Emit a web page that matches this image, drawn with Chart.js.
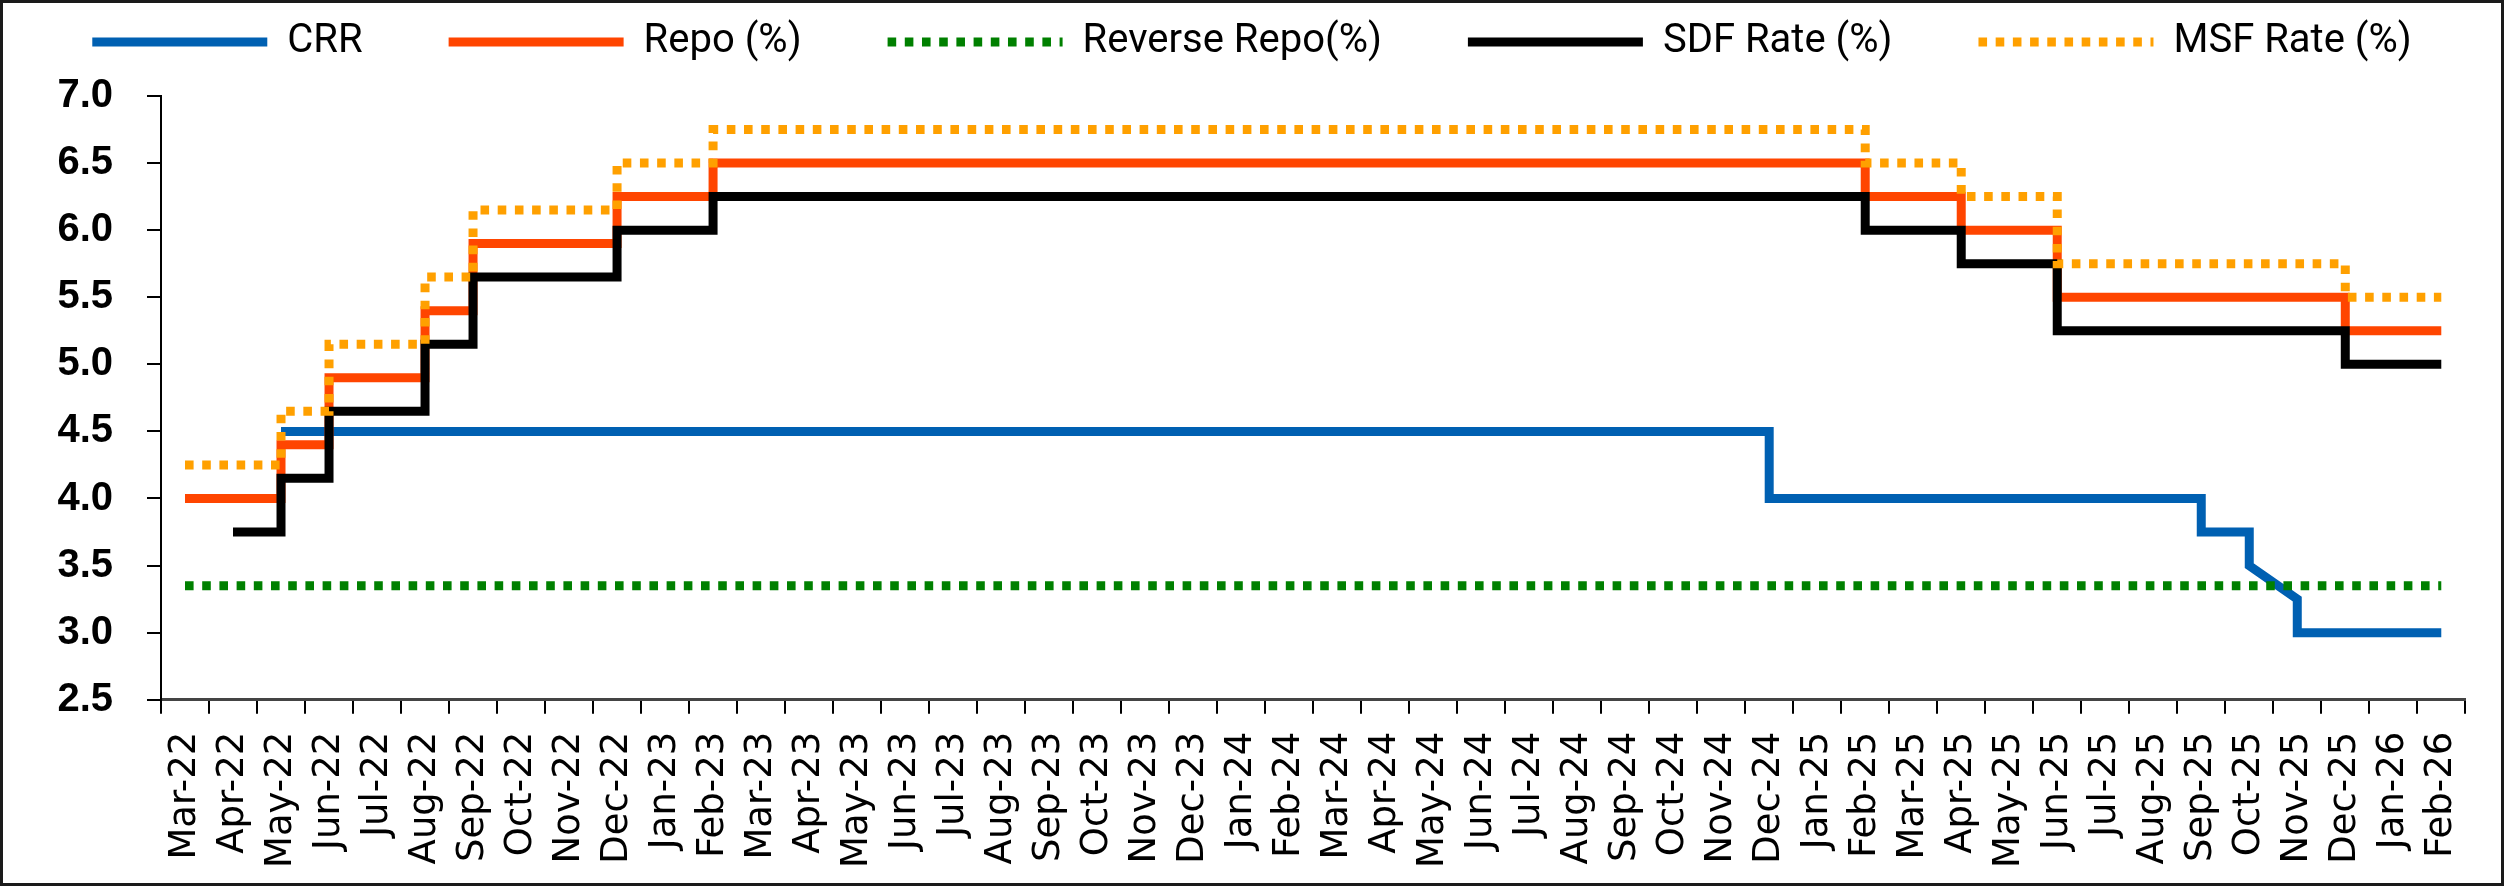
<!DOCTYPE html>
<html>
<head>
<meta charset="utf-8">
<script src="https://cdn.jsdelivr.net/npm/chart.js@4.4.1/dist/chart.umd.min.js"></script>
<style>
  html, body { margin: 0; padding: 0; background: #fff; }
</style>
</head>
<body>
<canvas id="rates" width="2504" height="886"></canvas>
<script>
// x axis: one slot per month
const months = [
  "Mar-22", "Apr-22", "May-22", "Jun-22", "Jul-22", "Aug-22", "Sep-22", "Oct-22",
  "Nov-22", "Dec-22", "Jan-23", "Feb-23", "Mar-23", "Apr-23", "May-23", "Jun-23",
  "Jul-23", "Aug-23", "Sep-23", "Oct-23", "Nov-23", "Dec-23", "Jan-24", "Feb-24",
  "Mar-24", "Apr-24", "May-24", "Jun-24", "Jul-24", "Aug-24", "Sep-24", "Oct-24",
  "Nov-24", "Dec-24", "Jan-25", "Feb-25", "Mar-25", "Apr-25", "May-25", "Jun-25",
  "Jul-25", "Aug-25", "Sep-25", "Oct-25", "Nov-25", "Dec-25", "Jan-26", "Feb-26",
];

// CRR - plain points, repeated month = vertical drop
const crrMonths = ["May-22", "Dec-24", "Dec-24", "Sep-25", "Sep-25", "Oct-25", "Oct-25", "Nov-25", "Nov-25", "Feb-26"];
const crrValues = [4.5, 4.5, 4.0, 4.0, 3.75, 3.75, 3.5, 3.25, 3.0, 3.0];

// the policy rates only change at these months (drawn as steps)
const repoMonths = ["Mar-22", "May-22", "Jun-22", "Aug-22", "Sep-22", "Dec-22", "Feb-23", "Feb-25", "Apr-25", "Jun-25", "Dec-25", "Feb-26"];
const repoValues = [4.0, 4.4, 4.9, 5.4, 5.9, 6.25, 6.5, 6.25, 6.0, 5.5, 5.25, 5.25];

const reverseRepoMonths = ["Mar-22", "Feb-26"];
const reverseRepoValues = [3.35, 3.35];

const sdfMonths = ["Apr-22", "May-22", "Jun-22", "Aug-22", "Sep-22", "Dec-22", "Feb-23", "Feb-25", "Apr-25", "Jun-25", "Dec-25", "Feb-26"];
const sdfValues = [3.75, 4.15, 4.65, 5.15, 5.65, 6.0, 6.25, 6.0, 5.75, 5.25, 5.0, 5.0];

const msfMonths = ["Mar-22", "May-22", "Jun-22", "Aug-22", "Sep-22", "Dec-22", "Feb-23", "Feb-25", "Apr-25", "Jun-25", "Dec-25", "Feb-26"];
const msfValues = [4.25, 4.65, 5.15, 5.65, 6.15, 6.5, 6.75, 6.5, 6.25, 5.75, 5.5, 5.5];

const yTicks = [2.5, 3.0, 3.5, 4.0, 4.5, 5.0, 5.5, 6.0, 6.5, 7.0];

function toPoints(xs, ys) {
  return xs.map((m, i) => ({ x: m, y: ys[i] }));
}

// thin dark frame round the whole picture
const frame = {
  id: "frame",
  afterDraw(chart) {
    const ctx = chart.ctx;
    ctx.save();
    ctx.strokeStyle = "#1a1a1a";
    ctx.lineWidth = 3;
    ctx.strokeRect(1.5, 1.5, chart.width - 3, chart.height - 3);
    ctx.restore();
  },
};

const ctx = document.getElementById("rates").getContext("2d");
const ratesChart = new Chart(ctx, {
  type: "line",
  data: {
    labels: months,
    datasets: [
      {
        label: "CRR",
        data: toPoints(crrMonths, crrValues),
        borderColor: "#0060B2",
        backgroundColor: "#0060B2",
        borderWidth: 9,
        order: 5,
      },
      {
        label: "Repo (%)",
        data: toPoints(repoMonths, repoValues),
        borderColor: "#FF4500",
        backgroundColor: "#FF4500",
        borderWidth: 9,
        stepped: "before",
        order: 4,
      },
      {
        label: "Reverse Repo(%)",
        data: toPoints(reverseRepoMonths, reverseRepoValues),
        borderColor: "#008000",
        backgroundColor: "#008000",
        borderWidth: 9,
        borderDash: [8.6, 8.6],
        order: 3,
      },
      {
        label: "SDF Rate (%)",
        data: toPoints(sdfMonths, sdfValues),
        borderColor: "#000000",
        backgroundColor: "#000000",
        borderWidth: 9,
        stepped: "before",
        order: 2,
      },
      {
        label: "MSF Rate (%)",
        data: toPoints(msfMonths, msfValues),
        borderColor: "#FFA000",
        backgroundColor: "#FFA000",
        borderWidth: 9,
        borderDash: [8.6, 8.6],
        stepped: "before",
        order: 1,
      },
    ],
  },
  options: {
    responsive: false,
    animation: false,
    layout: {
      // legend padding is big (wide gaps), so pull it up
      padding: { left: 0, right: 0, top: -64, bottom: 0 },
    },
    elements: {
      point: { radius: 0, hoverRadius: 0 },
      line: { tension: 0, borderCapStyle: "butt", borderJoinStyle: "miter" },
    },
    plugins: {
      tooltip: { enabled: false },
      legend: {
        display: true,
        position: "top",
        labels: {
          sort: (a, b) => a.datasetIndex - b.datasetIndex,
          usePointStyle: true,
          pointStyle: "line",
          pointStyleWidth: 175,
          padding: 86,
          color: "#000",
          font: { family: "Roboto", size: 40 },
          generateLabels: (chart) => {
            // keep the dotted look of the lines in the legend too
            const items = Chart.defaults.plugins.legend.labels.generateLabels(chart);
            items.forEach((item) => {
              const ds = chart.data.datasets[item.datasetIndex];
              item.lineDash = ds.borderDash || [];
              item.lineWidth = ds.borderWidth;
              item.strokeStyle = ds.borderColor;
            });
            return items;
          },
        },
      },
      // empty subtitle, only used as a spacer between legend and plot
      subtitle: {
        display: true,
        text: "",
        weight: 500,
        font: { size: 10 },
        padding: { top: 12, bottom: 0 },
      },
    },
    scales: {
      x: {
        type: "category",
        offset: true,
        grid: {
          offset: true,
          drawOnChartArea: false,
          tickLength: 14,
          color: "#000",
          lineWidth: 2,
        },
        border: { color: "#444", width: 3 },
        ticks: {
          autoSkip: false,
          maxRotation: 90,
          minRotation: 90,
          padding: 18,
          color: "#000",
          font: { family: "DejaVu Sans", size: 37 },
        },
      },
      y: {
        min: 2.5,
        max: 7.0,
        afterBuildTicks: (scale) => {
          scale.ticks = yTicks.map((v) => ({ value: v }));
        },
        afterFit: (scale) => {
          scale.width = 161;
        },
        grid: {
          drawOnChartArea: false,
          tickLength: 14,
          color: "#000",
          lineWidth: 2,
        },
        border: { color: "#000", width: 2 },
        ticks: {
          autoSkip: false,
          padding: 34,
          color: "#000",
          font: { family: "'Liberation Sans Narrow', 'Liberation Sans'", size: 40, weight: "bold" },
          callback: (v) => Number(v).toFixed(1),
        },
      },
      // empty strip on the right, just for the margin
      gap: {
        position: "right",
        grid: { display: false },
        border: { display: false },
        ticks: { display: false },
        afterFit: (scale) => {
          scale.width = 30;
        },
      },
    },
  },
  plugins: [frame],
});
</script>
</body>
</html>
